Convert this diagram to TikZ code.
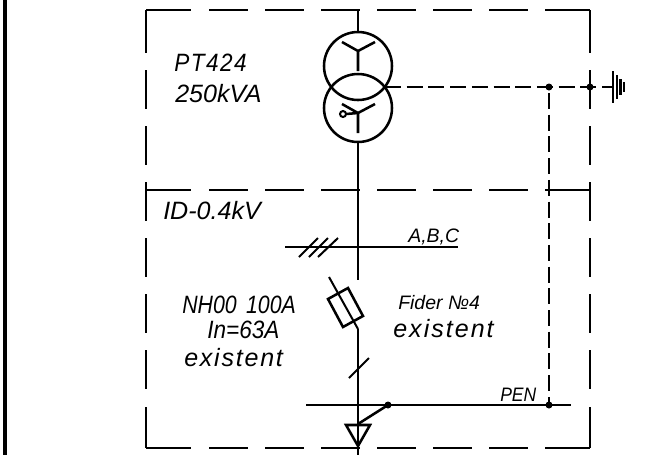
\documentclass[tikz,border=0pt]{standalone}
\usepackage{fontspec}
\setmainfont{Liberation Sans}[ItalicFont={Liberation Sans Italic}]
\tikzset{
  wire/.style={line width=1.9pt},
  thin wire/.style={line width=1.5pt},
  frame line/.style={line width=1.5pt,dash pattern=on 29.25pt off 12.75pt},
  dash wire/.style={line width=1.9pt,dash pattern=on 12pt off 4.275pt},
  label big/.style={anchor=base west,inner sep=0pt,font=\fontsize{18.8}{18.8}\selectfont\itshape},
  label small/.style={anchor=base west,inner sep=0pt,font=\fontsize{14.6}{14.6}\selectfont\itshape}
}
\begin{document}
\begin{tikzpicture}[x=0.75pt,y=0.75pt,yscale=-1,xscale=1]
        \useasboundingbox (0,0) rectangle (668,455);
        %page edge
        \draw [line width=3.5pt] (5,0) -- (5,455);

        %frame
        \foreach \wallx in {146,590} {
          \draw [line width=1.5pt] (\wallx,10) -- (\wallx,53);
          \draw [frame line] (\wallx,70) -- (\wallx,389);
          \draw [line width=1.5pt] (\wallx,407) -- (\wallx,448);
        }
        \foreach \rowy in {10,190,448} {
          \draw [line width=1.5pt] (146,\rowy) -- (191,\rowy);
          \draw [frame line] (209,\rowy) -- (529,\rowy);
          \draw [line width=1.5pt] (545,\rowy) -- (590,\rowy);
        }

        %transformer
        \coordinate (feedtop) at (358,10);
        \coordinate (upper) at (358,66);
        \coordinate (lower) at (358,108);
        \draw [wire] (upper) circle [radius=34];
        \draw [wire] (lower) circle [radius=34];
        \draw [wire] (feedtop) -- (358,32);
        \draw [wire] (358,71) -- (358,51) -- (342,42) (358,51) -- (375,42);
        \draw [wire] (358,133) -- (358,113) -- (342,104) (358,113) -- (375,104);
        \draw [wire] (358,113) -- (346,114);
        \draw [thin wire] (343,114) circle [radius=3];

        %earthing
        \coordinate (penjoin) at (549,87);
        \coordinate (earthjoin) at (590,87);
        \coordinate (penend) at (549,405);
        \draw [dash wire] (385,87) -- (613,87);
        \draw [dash wire,dash phase=11.775pt] (penjoin) -- (penend);
        \fill (penjoin) circle [radius=3.5];
        \fill (earthjoin) circle [radius=3.5];
        \fill (penend) circle [radius=3.5];
        \draw [wire] (613,71) -- (613,103);
        \draw [wire] (617,75) -- (617,99);
        \draw [wire] (620.5,79) -- (620.5,95);
        \draw [wire] (624,82) -- (624,92);

        %busbar and feeder
        \coordinate (bus) at (358,247);
        \coordinate (fusein) at (358,280);
        \coordinate (fuseout) at (358,329);
        \draw [wire] (358,142) -- (bus) -- (fusein);
        \draw [thin wire] (285,247) -- (458,247);
        \draw [thin wire] (299,257) -- (318,238) (309,257) -- (328,238) (318,257) -- (338,238);
        \draw [thin wire] (329,277) -- (fuseout);
        \draw [wire] (328,299) -- (348,288) -- (363,316) -- (343,327) -- cycle;
        \draw [wire] (fuseout) -- (358,455);
        \draw [thin wire] (349,378) -- (369,358);
        \draw [thin wire] (306,405) -- (571,405);
        \coordinate (contact) at (388,405);
        \draw [wire] (358,424) -- (contact);
        \fill (contact) circle [radius=3.5];
        \draw [wire] (346,425) -- (370,425) -- (358,446) -- cycle;

        %labels
        \node [label big] at (174,71) {\addfontfeatures{FakeStretch=0.9,LetterSpace=6}PT424};
        \node [label big] at (175,102) {250kVA};
        \node [label big] at (163,219) {ID-0.4kV};
        \node [label small] at (408,242) {A,B,C};
        \node [label big] at (182,313) {\addfontfeatures{FakeStretch=0.85}NH00\hspace{7pt}100A};
        \node [label big] at (207,338) {\addfontfeatures{FakeStretch=0.9}In=63A};
        \node [label big] at (184,366) {\addfontfeatures{LetterSpace=7}existent};
        \node [label small] at (398,309) {Fider №4};
        \node [label big] at (393,337) {\addfontfeatures{LetterSpace=8}existent};
        \node [label small] at (500,401) {\addfontfeatures{FakeStretch=0.9}PEN};
\end{tikzpicture}
\end{document}
